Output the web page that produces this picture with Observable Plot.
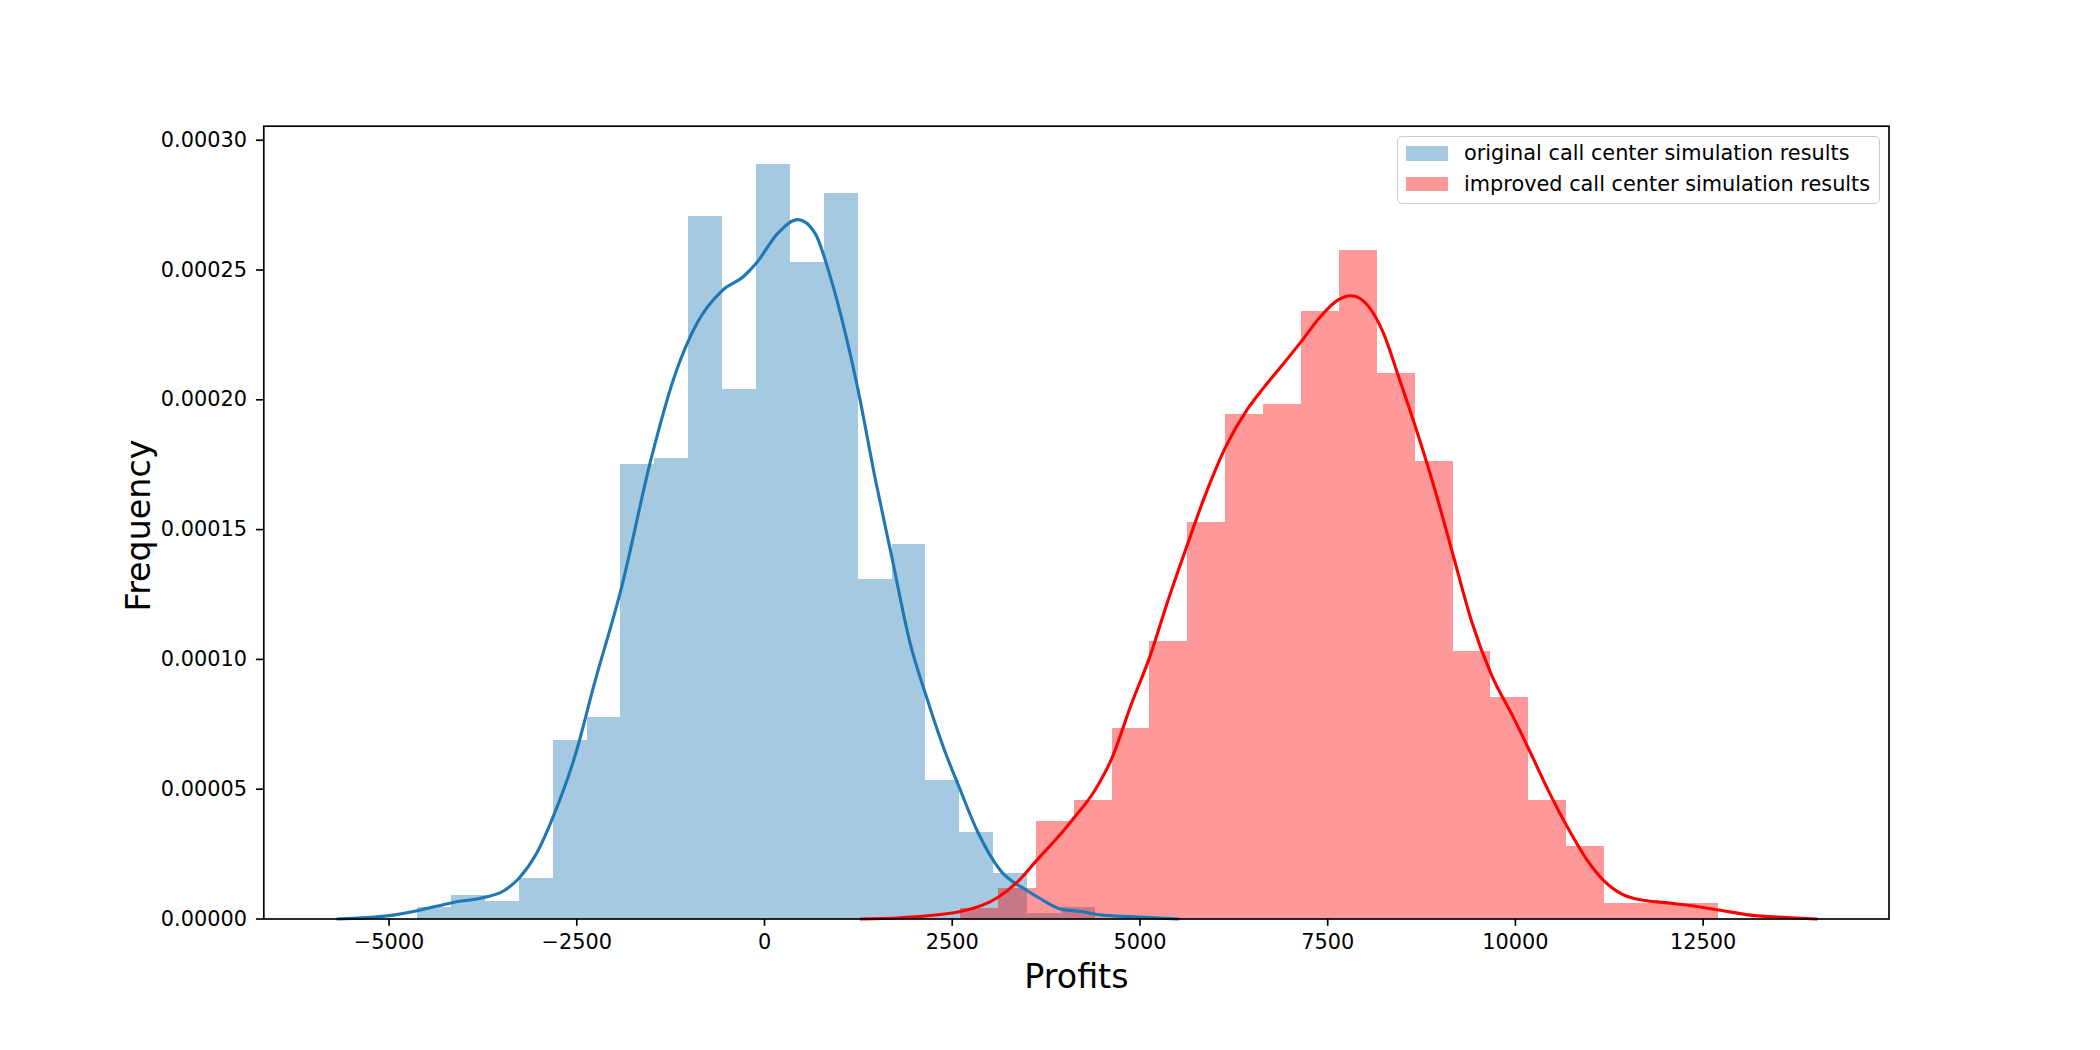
<!DOCTYPE html>
<html>
<head>
<meta charset="utf-8">
<script src="https://cdn.jsdelivr.net/npm/d3@7"></script>
<script src="https://cdn.jsdelivr.net/npm/@observablehq/plot@0.6"></script>
<style>
  body { margin: 0; background: #fff; }
  #wrap { position: relative; width: 2100px; height: 1050px; font-family: "DejaVu Sans", sans-serif; }
  #legend { position: absolute; left: 1397px; top: 136px; width: 483px; height: 68px;
            border: 1.6px solid #cccccc; border-radius: 5px; background: rgba(255,255,255,0.8);
            box-sizing: border-box; }
  .sw { position: absolute; width: 42px; height: 14.5px; }
  .lt { position: absolute; font-size: 20.83px; line-height: 24px; color: #000; white-space: nowrap; }
</style>
</head>
<body>
<div id="wrap"></div>
<script>
// ---- data ----
const xTicks = [-5000, -2500, 0, 2500, 5000, 7500, 10000, 12500];
const yTicks = [0, 0.00005, 0.0001, 0.00015, 0.0002, 0.00025, 0.0003];

const legendLabels = ["original call center simulation results", "improved call center simulation results"];

// original: histogram bin edges and densities
const blueEdges = [-4620, -4169, -3717, -3266, -2815, -2363, -1912, -1461, -1010, -558, -107,
                   344, 796, 1247, 1698, 2150, 2601, 3052, 3503, 3955, 4406];
const blueHeights = [4.4e-6, 8.9e-6, 6.6e-6, 1.55e-5, 6.87e-5, 7.76e-5, 1.752e-4, 1.774e-4, 2.705e-4, 2.04e-4,
                     2.905e-4, 2.528e-4, 2.794e-4, 1.308e-4, 1.441e-4, 5.32e-5, 3.33e-5, 1.77e-5, 2.2e-6, 4.4e-6];

// improved: histogram bin edges and densities
const redEdges = [2610, 3115, 3619, 4124, 4628, 5133, 5638, 6142, 6647, 7151, 7656,
                  8161, 8665, 9170, 9674, 10179, 10684, 11188, 11693, 12197, 12702];
const redHeights = [4.0e-6, 1.19e-5, 3.77e-5, 4.56e-5, 7.33e-5, 1.07e-4, 1.526e-4, 1.942e-4, 1.982e-4, 2.339e-4,
                    2.577e-4, 2.101e-4, 1.764e-4, 1.031e-4, 8.52e-5, 4.56e-5, 2.78e-5, 5.9e-6, 5.9e-6, 5.9e-6];

// KDE curves (x, density)
const blueKdeX = [-5687, -5000, -4609, -4158, -3721, -3500, -3270, -3040, -2810, -2504, -2274, -1907, -1508,
                  -1202, -896, -559, -283, -107, 176, 444, 674, 865, 1095, 1240, 1478, 1692, 1937, 2152, 2397,
                  2603, 2832, 3142, 3495, 3675, 3941, 4208, 4474, 4917, 5513];
const blueKdeY = [0, 1.3e-6, 3.3e-6, 6.3e-6, 8.4e-6, 1.04e-5, 1.57e-5, 2.5e-5, 3.97e-5, 6.47e-5, 8.98e-5, 1.274e-4, 1.775e-4,
                  2.088e-4, 2.297e-4, 2.422e-4, 2.474e-4, 2.527e-4, 2.641e-4, 2.694e-4, 2.641e-4, 2.485e-4, 2.234e-4, 2.046e-4, 1.691e-4, 1.399e-4, 1.065e-4, 8.6e-5, 6.5e-5,
                  5.0e-5, 3.4e-5, 1.87e-5, 1.1e-5, 7.8e-6, 3.9e-6, 2.9e-6, 1.6e-6, 0.85e-6, 0];

const redKdeX = [1280, 1811, 2610, 3112, 3365, 3622, 3984, 4112, 4411, 4621, 4895, 5121, 5379, 5630, 5864, 6138,
                 6429, 6646, 6913, 7147, 7397, 7639, 7817, 8043, 8245, 8446, 8664, 8931, 9173, 9415, 9681, 9980,
                 10190, 10464, 10690, 10948, 11183, 11433, 11683, 11998, 12321, 12700, 13128, 13612, 14015];
const redKdeY = [0, 5e-7, 2.9e-6, 8.4e-6, 1.42e-5, 2.25e-5, 3.41e-5, 3.86e-5, 5.01e-5, 6.16e-5, 8.35e-5, 1.002e-4, 1.232e-4, 1.441e-4, 1.629e-4, 1.817e-4,
                 1.963e-4, 2.046e-4, 2.14e-4, 2.224e-4, 2.318e-4, 2.385e-4, 2.401e-4, 2.36e-4, 2.255e-4, 2.088e-4, 1.9e-4, 1.65e-4, 1.399e-4, 1.148e-4, 9.4e-5, 7.73e-5,
                 6.47e-5, 4.8e-5, 3.55e-5, 2.3e-5, 1.46e-5, 9.4e-6, 7.3e-6, 6.3e-6, 5.2e-6, 3.5e-6, 1.5e-6, 6e-7, 0];

// ---- build tables ----
const bins = (edges, heights) => heights.map((h, i) => ({x1: edges[i], x2: edges[i + 1], y: h}));
const pts = (xs, ys) => xs.map((x, i) => ({x, y: ys[i]}));
const blueBins = bins(blueEdges, blueHeights);
const redBins = bins(redEdges, redHeights);
const blueKde = pts(blueKdeX, blueKdeY);
const redKde = pts(redKdeX, redKdeY);

const BLUE = "#1f77b4", RED = "#ff0000";
const fmtX = d => d < 0 ? "\u2212" + Math.abs(d) : String(d);
const FS = 20.83, LFS = 33.3;

const chart = Plot.plot({
  width: 2100,
  height: 1050,
  marginLeft: 263.3,
  marginRight: 211.5,
  marginTop: 125.7,
  marginBottom: 131.5,
  style: {fontFamily: "DejaVu Sans", background: "white", color: "black"},
  x: {domain: [-6668, 14975]},
  y: {domain: [0, 0.0003054]},
  marks: [
    Plot.rect(blueBins, {x1: "x1", x2: "x2", y1: 0, y2: "y", fill: BLUE, fillOpacity: 0.4, shapeRendering: "crispEdges"}),
    Plot.rect(redBins, {x1: "x1", x2: "x2", y1: 0, y2: "y", fill: RED, fillOpacity: 0.4, shapeRendering: "crispEdges"}),
    Plot.line(blueKde, {x: "x", y: "y", stroke: BLUE, strokeWidth: 3.1, curve: "monotone-x"}),
    Plot.line(redKde, {x: "x", y: "y", stroke: RED, strokeWidth: 3.1, curve: "monotone-x"}),
    Plot.frame({stroke: "black", strokeWidth: 1.67}),
    Plot.axisX({ticks: xTicks, tickSize: 7.3, tickPadding: 8.4, fontSize: FS, tickFormat: fmtX, label: null, strokeWidth: 1.67}),
    Plot.axisY({ticks: yTicks, tickSize: 7.3, tickPadding: 9.5, fontSize: FS, tickFormat: d => d.toFixed(5), label: null, strokeWidth: 1.67}),
    Plot.text(["Profits"], {text: d => d, frameAnchor: "bottom", dy: 68.8, lineAnchor: "bottom", textAnchor: "middle", fontSize: LFS, fill: "black"}),
    Plot.text(["Frequency"], {text: d => d, frameAnchor: "left", dx: -114, dy: 3, rotate: -90, lineAnchor: "bottom", textAnchor: "middle", fontSize: LFS, fill: "black"})
  ]
});

const wrap = document.getElementById("wrap");
wrap.appendChild(chart);

// legend inside the axes (upper right)
const legend = document.createElement("div");
legend.id = "legend";
wrap.appendChild(legend);
const legendColors = ["rgba(31,119,180,0.4)", "rgba(255,0,0,0.4)"];
const rowTops = [146, 176.7];
const textTops = [141.3, 171.7];
legendLabels.forEach((lab, i) => {
  const sw = document.createElement("div");
  sw.className = "sw";
  sw.style.left = "1406px";
  sw.style.top = rowTops[i] + "px";
  sw.style.background = legendColors[i];
  wrap.appendChild(sw);
  const t = document.createElement("div");
  t.className = "lt";
  t.style.left = "1464px";
  t.style.top = textTops[i] + "px";
  t.textContent = lab;
  wrap.appendChild(t);
});
</script>
</body>
</html>
